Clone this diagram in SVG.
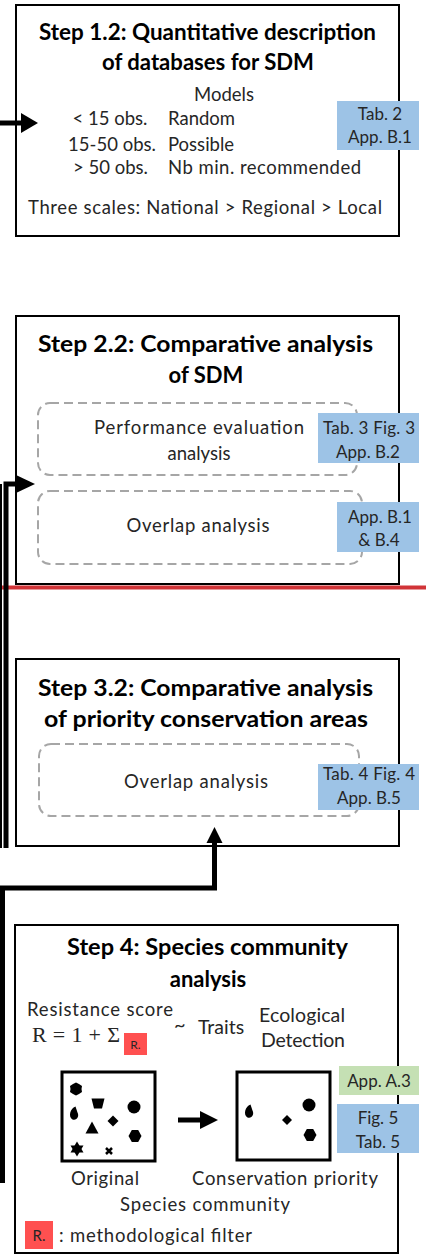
<svg xmlns="http://www.w3.org/2000/svg" width="426" height="1255" viewBox="0 0 426 1255">
<style>
.box{fill:#fff;stroke:#000;stroke-width:2}
.dash{fill:none;stroke:#a6a6a6;stroke-width:2;stroke-dasharray:9 5}
.blue{fill:#9dc3e6}
.green{fill:#c5e0b4}
.red{fill:#ff5050}
text{font-family:Lato,"Liberation Sans",sans-serif;fill:#262626;font-size:18.5px}
.h{font-weight:bold;font-size:22px;fill:#000;text-anchor:middle}
.c{text-anchor:middle}
.tag{font-size:17px;text-anchor:middle}
.math{font-family:"Liberation Serif","DejaVu Serif",serif;font-size:22px}
.con{fill:none;stroke:#000;stroke-width:5}
.sp{fill:#000}
</style>
<line x1="0" y1="587.5" x2="426" y2="587.5" stroke="#d13438" stroke-width="4"/>

<g id="step1-2">
<rect class="box" x="16" y="5" width="383" height="231"/>
<text class="h" x="207.5" y="40" textLength="337" lengthAdjust="spacingAndGlyphs">Step 1.2: Quantitative description</text>
<text class="h" x="208" y="70" textLength="212" lengthAdjust="spacingAndGlyphs">of databases for SDM</text>
<text class="c" x="224" y="101">Models</text>
<text class="c" x="110" y="125">&lt; 15 obs.</text>
<text class="c" x="112" y="151">15-50 obs.</text>
<text class="c" x="110.5" y="174">&gt; 50 obs.</text>
<text x="168" y="125">Random</text>
<text x="168" y="151">Possible</text>
<text x="168" y="174" textLength="193">Nb min. recommended</text>
<text class="c" x="205" y="214" textLength="354">Three scales: National &gt; Regional &gt; Local</text>
<rect class="blue" x="337" y="101" width="82" height="49"/>
<text class="tag" x="380" y="120">Tab. 2</text>
<text class="tag" x="380" y="143">App. B.1</text>
</g>

<g id="step2-2">
<rect class="box" x="16" y="316" width="383" height="268"/>
<text class="h" x="205.5" y="352" textLength="335" lengthAdjust="spacingAndGlyphs">Step 2.2: Comparative analysis</text>
<text class="h" x="206" y="383">of SDM</text>
<rect class="dash" x="38" y="403" width="319" height="72" rx="12"/>
<text class="c" x="199" y="434" textLength="210">Performance evaluation</text>
<text class="c" x="199" y="460">analysis</text>
<rect class="blue" x="318" y="413" width="101" height="50"/>
<text class="tag" x="369" y="434" textLength="92">Tab. 3 Fig. 3</text>
<text class="tag" x="368" y="458">App. B.2</text>
<rect class="dash" x="38" y="491" width="324" height="73" rx="12"/>
<text class="c" x="198" y="532" textLength="143">Overlap analysis</text>
<rect class="blue" x="337" y="502" width="82" height="50"/>
<text class="tag" x="380" y="523">App. B.1</text>
<text class="tag" x="379" y="546">&amp; B.4</text>
</g>

<g id="step3-2">
<rect class="box" x="16" y="659" width="383" height="187"/>
<text class="h" x="205.5" y="696" textLength="335" lengthAdjust="spacingAndGlyphs">Step 3.2: Comparative analysis</text>
<text class="h" x="206" y="727" textLength="324" lengthAdjust="spacingAndGlyphs">of priority conservation areas</text>
<rect class="dash" x="39" y="744" width="320" height="72" rx="12"/>
<text class="c" x="196" y="788" textLength="144">Overlap analysis</text>
<rect class="blue" x="318" y="764" width="101" height="46"/>
<text class="tag" x="369" y="780" textLength="92">Tab. 4 Fig. 4</text>
<text class="tag" x="369" y="804">App. B.5</text>
</g>

<g id="step4">
<rect class="box" x="15" y="925" width="383" height="328"/>
<text class="h" x="207.5" y="955" textLength="281" lengthAdjust="spacingAndGlyphs">Step 4: Species community</text>
<text class="h" x="208" y="987">analysis</text>
<text x="27" y="1016" textLength="146">Resistance score</text>
<text class="math" x="32" y="1042" textLength="88">R = 1 + Σ</text>
<rect class="red" x="124" y="1033" width="23" height="22"/>
<text x="135.5" y="1049" class="c" style="font-size:12px">R.</text>
<text x="174" y="1032" style="font-size:20px">~</text>
<text x="198" y="1034" style="font-size:19.5px">Traits</text>
<text x="259" y="1022" textLength="86" style="font-size:19.5px">Ecological</text>
<text x="261" y="1047" textLength="84" style="font-size:19.5px">Detection</text>

<rect x="62" y="1072" width="93" height="89" fill="#fff" stroke="#000" stroke-width="3"/>
<rect x="237" y="1072" width="93" height="88" fill="#fff" stroke="#000" stroke-width="3"/>
<g class="sp">
<polygon points="76,1082.5 79,1084 82,1086 81.5,1089 82,1092 79,1094 76,1095.5 73,1094 70,1092 70.5,1089 70,1086 73,1084"/>
<path d="M121,1080.5 A6.5,6.5 0 1 0 121,1093.5 A5,5 0 1 1 121,1080.5 Z"/>
<polygon points="91.5,1098.5 104.5,1098.5 102,1108.5 94,1108.5"/>
<circle cx="134" cy="1107" r="6.5"/>
<path d="M75.5,1106.5 C70,1108.5 68,1117 72.5,1119.5 C77,1121 79.5,1116 77.5,1112.5 Z"/>
<polygon points="113,1115.5 118.5,1121 113,1126.5 107.5,1121"/>
<polygon points="92,1121.5 98.5,1133.5 85.5,1133.5"/>
<polygon points="128.5,1136 131.8,1130 138.2,1130 141.5,1136 138.2,1142 131.8,1142"/>
<polygon points="77,1141.5 83.5,1152.5 70.5,1152.5"/>
<polygon points="77,1156.5 83.5,1145.5 70.5,1145.5"/>
<path d="M106,1148 L112,1154 M112,1148 L106,1154" stroke="#000" stroke-width="2.5"/>
<path d="M250.5,1104.5 C245,1106.5 243,1115 247.5,1117.5 C252,1119 254.5,1114 252.5,1110.5 Z"/>
<circle cx="309" cy="1105" r="6.5"/>
<polygon points="287,1115 292,1120 287,1125 282,1120"/>
<polygon points="303.5,1135 306.8,1129 313.2,1129 316.5,1135 313.2,1141 306.8,1141"/>
</g>
<line x1="178" y1="1120" x2="202" y2="1120" stroke="#000" stroke-width="5"/>
<polygon points="200,1111 218,1120 200,1129" fill="#000"/>

<rect class="green" x="339" y="1066" width="80" height="29"/>
<text class="tag" x="379" y="1087">App. A.3</text>
<rect class="blue" x="337" y="1104" width="82" height="49"/>
<text class="tag" x="378" y="1124">Fig. 5</text>
<text class="tag" x="378" y="1148">Tab. 5</text>

<text class="c" x="105" y="1185" textLength="68">Original</text>
<text class="c" x="285" y="1185" textLength="186">Conservation priority</text>
<text class="c" x="205" y="1211" textLength="170">Species community</text>
<rect class="red" x="25" y="1221" width="28" height="28"/>
<text class="c" x="39" y="1241" style="font-size:15px">R.</text>
<text x="59" y="1242" textLength="193">: methodological filter</text>
</g>

<g id="connectors">
<line x1="0" y1="123" x2="23" y2="123" class="con"/>
<polygon points="21,113 38,123 21,133" fill="#000"/>
<line x1="1" y1="484" x2="1" y2="848" stroke="#000" stroke-width="2"/>
<path d="M6,848 V484 H18" class="con" stroke-width="4"/>
<polygon points="16,475 35,484 16,493" fill="#000"/>
<path d="M2.5,1183 V888 H214.5 V841" class="con"/>
<polygon points="206.5,843 214.5,827 222.5,843" fill="#000"/>
</g>
</svg>
